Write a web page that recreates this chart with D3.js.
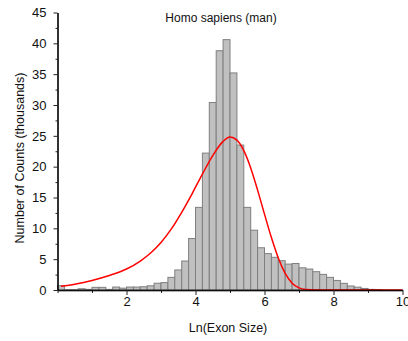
<!DOCTYPE html>
<html>
<head>
<meta charset="utf-8">
<script src="https://cdn.jsdelivr.net/npm/d3@7"></script>
<style>
  body { margin: 0; background: #fff; }
  svg { font-family: "Liberation Sans", Arial, sans-serif; }
  .bar { fill: #c0c0c0; stroke: #7f7f7f; stroke-width: 1; }
  .fit { fill: none; stroke: #ff0000; stroke-width: 1.5; }
</style>
</head>
<body>
<div class="svg-container"></div>
<script>
// histogram bins (left edge, width 0.2) and counts in thousands
const binStarts = [0.0, 0.2, 0.4, 0.6, 0.8, 1.0, 1.2, 1.4, 1.6, 1.8,
  2.0, 2.2, 2.4, 2.6, 2.8, 3.0, 3.2, 3.4, 3.6, 3.8,
  4.0, 4.2, 4.4, 4.6, 4.8, 5.0, 5.2, 5.4, 5.6, 5.8,
  6.0, 6.2, 6.4, 6.6, 6.8, 7.0, 7.2, 7.4, 7.6, 7.8,
  8.0, 8.2, 8.4, 8.6, 8.8, 9.0, 9.2];
const counts = [0.7, 0.05, 0.05, 0.2, 0.1, 0.43, 0.43, 0.1, 0.48, 0.3,
  0.48, 0.48, 0.53, 0.68, 1.1, 1.2, 2.05, 3.25, 4.7, 8.35,
  13.4, 22.2, 30.4, 38.8, 40.6, 35.2, 23.5, 13.4, 9.7, 6.85,
  5.9, 5.3, 4.75, 4.2, 4.3, 3.6, 3.4, 2.97, 2.53, 2.05,
  1.55, 1.08, 0.65, 0.46, 0.25, 0.1, 0.05];
const binWidth = 0.2;

// fitted curve
const fitX = [0.1, 0.5, 1.0, 1.5, 2.0, 2.4, 2.7, 3.0, 3.3, 3.6, 3.9, 4.2, 4.5, 4.8, 5.0,
  5.2, 5.4, 5.6, 5.8, 6.0, 6.2, 6.4, 6.6, 6.8, 7.0, 7.2, 7.5, 8.0, 9.0, 10.0];
const fitY = [0.6, 0.95, 1.55, 2.35, 3.4, 4.7, 6.0, 7.7, 9.9, 12.6, 15.6, 18.8, 21.8, 24.1, 24.8,
  24.3, 22.6, 19.8, 16.2, 12.3, 8.5, 5.2, 2.7, 1.1, 0.35, 0.1, 0.02, 0, 0, 0];

const xMajor = [2, 4, 6, 8, 10];
const xMinor = [0, 1, 3, 5, 7, 9];
const yMajor = [0, 5, 10, 15, 20, 25, 30, 35, 40, 45];
const yMinor = [2.5, 7.5, 12.5, 17.5, 22.5, 27.5, 32.5, 37.5, 42.5];

const chartTitle = "Homo sapiens (man)";
const xTitle = "Ln(Exon Size)";
const yTitle = "Number of Counts (thousands)";

const width = 408, height = 341;
const margin = {top: 12.5, left: 57.5, right: 5.5, bottom: 51};

const svg = d3.select(".svg-container").append("svg")
  .attr("width", width)
  .attr("height", height);

const xScale = d3.scaleLinear().domain([0, 10]).range([margin.left, width - margin.right]);
const yScale = d3.scaleLinear().domain([0, 45]).range([height - margin.bottom, margin.top]);

// bars
svg.append("g")
  .selectAll("rect")
  .data(binStarts)
  .join("rect")
  .attr("class", "bar")
  .attr("x", d => xScale(d))
  .attr("width", d => xScale(d + binWidth) - xScale(d))
  .attr("y", (d, i) => yScale(counts[i]))
  .attr("height", (d, i) => yScale(0) - yScale(counts[i]));

// fit curve
const line = d3.line()
  .x((d, i) => xScale(fitX[i]))
  .y(d => yScale(d))
  .curve(d3.curveMonotoneX);

svg.append("path")
  .datum(fitY)
  .attr("class", "fit")
  .attr("d", line);

// axes
function styleAxis(g) {
  g.select(".domain").attr("stroke", "#000").attr("stroke-width", 1.6).attr("stroke-opacity", 0.7);
  g.selectAll(".tick line").attr("stroke", "#222").attr("stroke-width", 1);
  g.selectAll(".tick text").attr("fill", "#111").style("font-size", "13px");
}

const x0 = yScale(0);
svg.append("g")
  .attr("transform", `translate(0,${x0})`)
  .call(d3.axisBottom(xScale).tickValues(xMinor).tickSize(3).tickFormat("").tickSizeOuter(0))
  .call(styleAxis);
svg.append("g")
  .attr("transform", `translate(0,${x0})`)
  .call(d3.axisBottom(xScale).tickValues(xMajor).tickSize(5).tickPadding(2).tickSizeOuter(0))
  .call(styleAxis);

svg.append("g")
  .attr("transform", `translate(${margin.left},0)`)
  .call(d3.axisLeft(yScale).tickValues(yMinor).tickSize(2).tickFormat("").tickSizeOuter(0))
  .call(styleAxis);
svg.append("g")
  .attr("transform", `translate(${margin.left},0)`)
  .call(d3.axisLeft(yScale).tickValues(yMajor).tickSize(4).tickPadding(7).tickSizeOuter(0))
  .call(styleAxis);

// titles
svg.append("text")
  .attr("x", 221)
  .attr("y", 22)
  .attr("text-anchor", "middle")
  .style("font-size", "12px")
  .attr("fill", "#111")
  .text(chartTitle);

svg.append("text")
  .attr("x", 228)
  .attr("y", 332)
  .attr("text-anchor", "middle")
  .style("font-size", "12.5px")
  .attr("fill", "#111")
  .text(xTitle);

svg.append("text")      // y-axis label
  .attr("transform", "translate(24,158) rotate(-90)")
  .attr("text-anchor", "middle")
  .style("font-size", "12.5px")
  .attr("fill", "#111")
  .text(yTitle);
</script>
</body>
</html>
